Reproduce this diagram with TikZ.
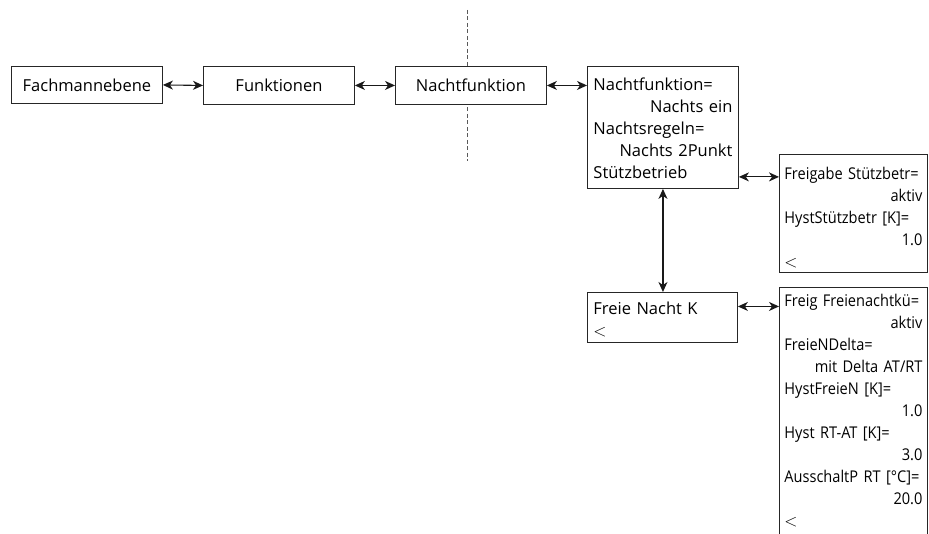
\documentclass[tikz,border=0pt]{standalone}
\usepackage{fontspec}
\setmainfont{Open Sans}
\newfontfamily\narrowfont[FakeStretch=0.9]{Open Sans}
\usetikzlibrary{arrows.meta}
% a line set flush right, ending #1 before the text edge
\newcommand{\rline}[2][0pt]{\hspace*{\fill}#2\hspace*{#1}}
% the "back" entry at the end of a menu
\newcommand{\backmark}{\mbox{$<$}}
\begin{document}
\begin{tikzpicture}[x=1pt,y=-1pt,
  frame/.style={draw=black!85, line width=0.9pt, fill=white, inner sep=0pt, anchor=north west},
  plain/.style={frame, font=\fontsize{16.5}{22}\selectfont},
  % multi-line boxes: first baseline #2 below the top edge, box #3 high
  menu/.style n args={3}{frame, align=left, inner xsep=6pt, text width=#1,
    text height=#2, text depth=#3-#2, font=\fontsize{16.5}{22}\selectfont},
  param/.style n args={3}{frame, align=left, inner xsep=5pt, text width=#1,
    text height=#2, text depth=#3-#2, font=\narrowfont\fontsize{16.2}{22}\selectfont},
  link/.style={line width=1.1pt, black!90,
    {Stealth[length=10pt,width=9pt,inset=3pt]}-{Stealth[length=10pt,width=9pt,inset=3pt]}},
  cut/.style={draw=black!65, line width=0.8pt, dash pattern=on 4pt off 2.5pt}]
\useasboundingbox (0,0) rectangle (929,534);
\clip (0,0) rectangle (929,534);

% level separator behind the menu row
\coordinate (cutTop) at (467,10);
\coordinate (cutBottom) at (467,161);
\draw[cut] (cutTop) -- (cutBottom);

% menu path
\node[plain, minimum width=151pt, minimum height=37pt] (fach) at (11,66) {Fachmannebene};
\node[plain, minimum width=151pt, minimum height=38pt] (funk) at (203,66) {Funktionen};
\node[plain, minimum width=151pt, minimum height=38pt] (nacht) at (395,66) {Nachtfunktion};

\node[menu={139pt}{24pt}{122pt}] (nachtpar) at (587,66)
  {Nachtfunktion=\\
   \rline[5pt]{Nachts ein}\\
   Nachtsregeln=\\
   \rline[5pt]{Nachts 2Punkt}\\
   Stützbetrieb};

\node[param={138pt}{25pt}{118pt}] (stuetz) at (779,154)
  {Freigabe Stützbetr=\\
   \rline{aktiv}\\
   HystStützbetr [K]=\\
   \rline{1.0}\\
   \backmark};

\node[menu={138pt}{22pt}{50pt}] (freie) at (587,292)
  {Freie Nacht K\\
   \backmark};

\node[param={138pt}{19pt}{262pt}] (freiepar) at (779,287)
  {Freig Freienachtkü=\\
   \rline{aktiv}\\
   FreieNDelta=\\
   \rline{mit Delta AT/RT}\\
   HystFreieN [K]=\\
   \rline{1.0}\\
   Hyst RT-AT [K]=\\
   \rline{3.0}\\
   AusschaltP RT [°C]=\\
   \rline{20.0}\\
   \backmark};

% connectors
\draw[link] (fach.east) -- (funk.west);
\draw[link] (funk.east) -- (nacht.west);
\draw[link] (nacht.east) -- (nacht.east -| nachtpar.west);
\draw[link] ([yshift=12pt]nachtpar.south east) coordinate (sp) -- (sp -| stuetz.west);
\draw[link] (nachtpar.south) -- (nachtpar.south |- freie.north);
\draw[link] ([yshift=11pt]freie.east) coordinate (fp) -- (fp -| freiepar.west);
\end{tikzpicture}
\end{document}
